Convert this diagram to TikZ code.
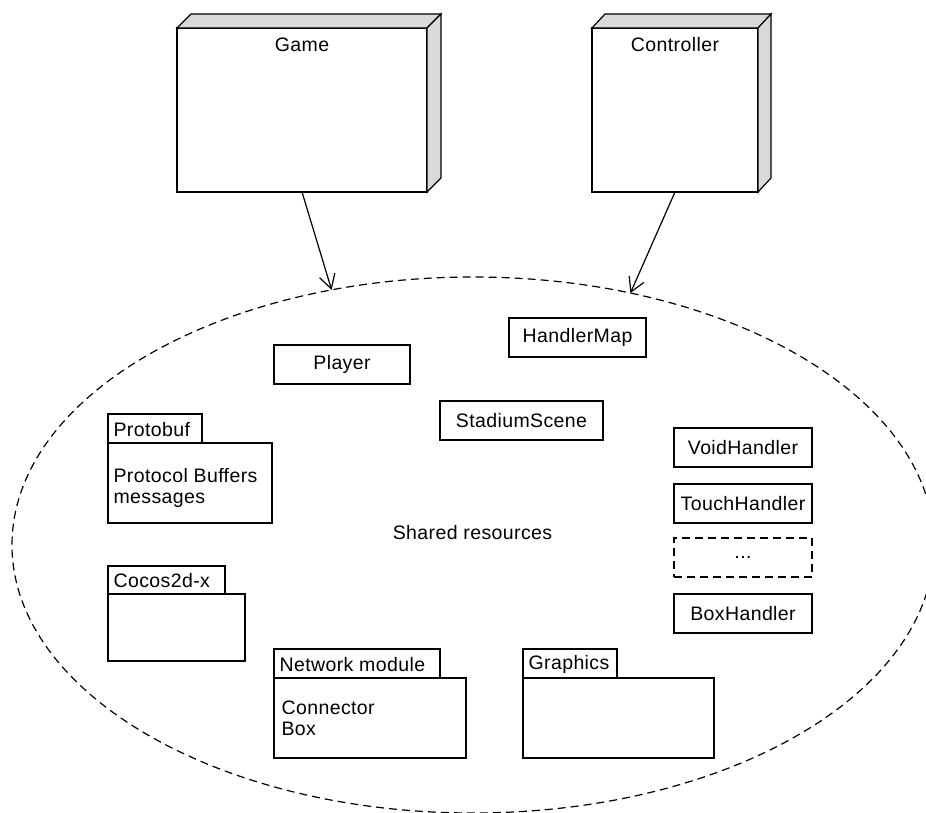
\documentclass[tikz,border=0pt]{standalone}
\usepackage{fontspec}
\setmainfont{Liberation Sans}[LetterSpace=2]
\usetikzlibrary{arrows.meta,shapes.geometric,calc}
\definecolor{sidegray}{HTML}{D9D9D9}
\begin{document}
\begin{tikzpicture}[x=1pt,y=-1pt,
  every node/.style={font=\fontsize{19.5}{21}\selectfont},
  line width=1.2pt,
  front/.style={draw, fill=white, inner sep=0pt, outer sep=0pt, anchor=north west},
  sideface/.style={draw, fill=sidegray, line join=miter},
  classbox/.style={draw, inner sep=0pt, outer sep=0pt, anchor=north west, minimum height=39},
  dashbox/.style={classbox, dash pattern=on 8pt off 5pt},
  pkgtab/.style={draw, inner sep=0pt, outer sep=0pt, anchor=north west, minimum height=29},
  pkgbody/.style={draw, inner sep=0pt, outer sep=0pt, anchor=north west},
  pkgtext/.style={anchor=north west, align=left, inner sep=0pt},
  dep/.style={-{Straight Barb[length=14pt,width=16pt,line width=1.2pt]}},
  region/.style={draw, dash pattern=on 8pt off 5pt, ellipse, inner sep=0pt, outer sep=0pt}
]
\useasboundingbox (0,0) rectangle (926,813);
\clip (0,0) rectangle (926,813);

% deployment nodes with 3D sides
\node[front, minimum width=250, minimum height=164] (game) at (177,28) {};
\filldraw[sideface] (game.north west) -- ++(14,-14) -- ($(game.north east)+(14,-14)$) -- (game.north east) -- cycle;
\filldraw[sideface] (game.north east) -- ++(14,-14) -- ($(game.south east)+(14,-14)$) -- (game.south east) -- cycle;
\node (gamelbl) at (302,45) {Game};

\node[front, minimum width=166, minimum height=164] (ctrl) at (592,28) {};
\filldraw[sideface] (ctrl.north west) -- ++(13,-14) -- ($(ctrl.north east)+(13,-14)$) -- (ctrl.north east) -- cycle;
\filldraw[sideface] (ctrl.north east) -- ++(13,-14) -- ($(ctrl.south east)+(13,-14)$) -- (ctrl.south east) -- cycle;
\node (ctrllbl) at (675,45) {Controller};

% shared resources region
\node[region, minimum width=922, minimum height=536] (shared) at (473,545) {};
\node (sharedlbl) at (472.5,533) {Shared resources};

\draw[dep] (game.south) -- (shared.119.5);
\draw[dep] (ctrl.south) -- (shared.58);

% classes
\node[classbox, minimum width=136] (player) at (274,345) {Player};
\node[classbox, minimum width=137] (hmap) at (509,318) {HandlerMap};
\node[classbox, minimum width=163] (stadium) at (440,401) {StadiumScene};

\node[classbox, minimum width=138] (void) at (674,428) {VoidHandler};
\node[classbox, minimum width=138] (touch) at (674,484) {TouchHandler};
\node[dashbox, minimum width=138] (more) at (674,538) {...};
\node[classbox, minimum width=138] (boxh) at (674,594) {BoxHandler};

% packages
\node[pkgtab, minimum width=94] (pbtab) at (108,414) {};
\node[anchor=west, inner sep=0pt] (pbname) at ($(pbtab.west)+(5,1)$) {Protobuf};
\node[pkgbody, minimum width=164, minimum height=80] (pbbody) at (108,443) {};
\node[pkgtext] (pbtext) at ($(pbbody.north west)+(5,25)$) {Protocol Buffers\\messages};

\node[pkgtab, minimum width=117, minimum height=28] (cctab) at (108,566) {};
\node[anchor=west, inner sep=0pt] (ccname) at ($(cctab.west)+(5,1)$) {Cocos2d-x};
\node[pkgbody, minimum width=137, minimum height=67] (ccbody) at (108,594) {};

\node[pkgtab, minimum width=166] (nettab) at (274,649) {};
\node[anchor=west, inner sep=0pt] (netname) at ($(nettab.west)+(5,1)$) {Network module};
\node[pkgbody, minimum width=192, minimum height=80] (netbody) at (274,678) {};
\node[pkgtext] (nettext) at ($(netbody.north west)+(7,22)$) {Connector\\Box};

\node[pkgtab, minimum width=94] (gfxtab) at (523,649) {};
\node[anchor=west, inner sep=0pt] (gfxname) at ($(gfxtab.west)+(5,1)$) {Graphics};
\node[pkgbody, minimum width=191, minimum height=80] (gfxbody) at (523,678) {};
\end{tikzpicture}
\end{document}
